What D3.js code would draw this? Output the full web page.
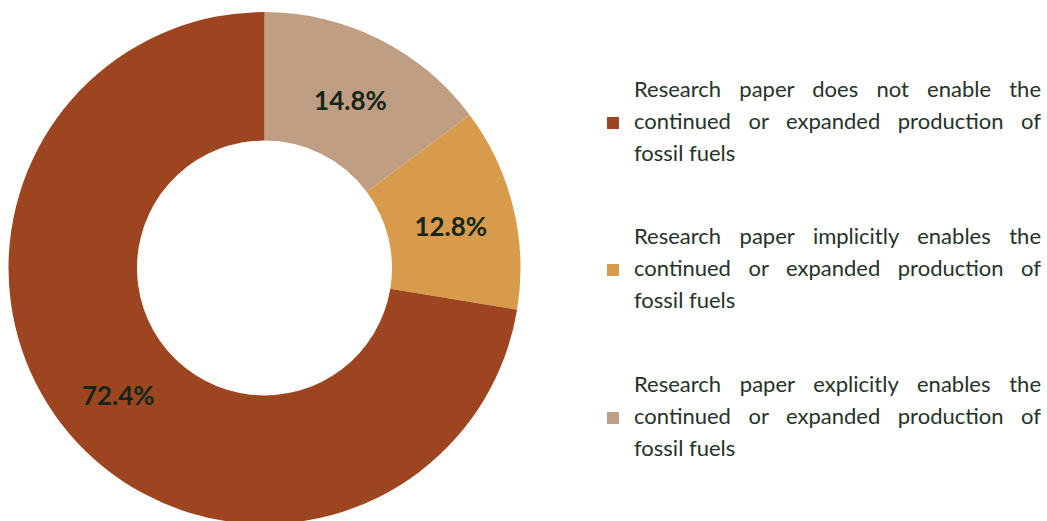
<!DOCTYPE html>
<html lang="en">
<head>
    <meta charset="utf-8">
    <title>D3: Research papers and fossil fuel production</title>
    <script type="text/javascript" src="https://d3js.org/d3.v7.min.js"></script>
    <style>
        body { margin: 0; background: #fff; }
    </style>
</head>
<body>
    <script type="text/javascript">

        // Chart data (clockwise from 12 o'clock)
        var categories = ["explicit", "implicit", "none"];
        var shares = [14.8, 12.8, 72.4];
        var labels = ["14.8%", "12.8%", "72.4%"];
        var colors = ["#BF9E84", "#D89B4B", "#9D4520"];

        // Legend order (top to bottom)
        var legendOrder = ["none", "implicit", "explicit"];
        var legendLines = [
            ["Research paper does not enable the", "continued or expanded production of", "fossil fuels"],
            ["Research paper implicitly enables the", "continued or expanded production of", "fossil fuels"],
            ["Research paper explicitly enables the", "continued or expanded production of", "fossil fuels"]
        ];

        var width = 1047, height = 521;
        var font = "Lato, 'Open Sans', sans-serif";

        var svg = d3.select("body").append("svg")
            .attr("width", width)
            .attr("height", height);

        var colorScale = d3.scaleOrdinal().domain(categories).range(colors);

        var pie = d3.pie().sort(null).value(function(d) { return d.value; });
        var pieData = pie(categories.map(function(c, i) {
            return { key: c, value: shares[i], label: labels[i] };
        }));

        var arc = d3.arc().innerRadius(127.5).outerRadius(256);

        var g = svg.append("g").attr("transform", "translate(264.5,268)");

        g.selectAll("path")
            .data(pieData)
            .enter()
            .append("path")
            .attr("d", arc)
            .attr("fill", function(d) { return colorScale(d.data.key); });

        g.selectAll("text")
            .data(pieData)
            .enter()
            .append("text")
            .attr("transform", function(d) {
                var c = arc.centroid(d);
                return "translate(" + c[0] + "," + (c[1] + 4) + ")";
            })
            .attr("text-anchor", "middle")
            .attr("dy", "0.35em")
            .style("font-family", font)
            .style("font-weight", "bold")
            .style("font-size", "26px")
            .style("fill", "#14261a")
            .text(function(d) { return d.data.label; });

        // Legend with justified lines
        var legendX = 634, legendRight = 1041;
        var firstBaseline = [97, 244, 392];
        var lineHeight = 32;

        legendOrder.forEach(function(key, i) {
            var lg = svg.append("g");
            lg.append("rect")
                .attr("x", 607)
                .attr("y", firstBaseline[i] + lineHeight - 12)
                .attr("width", 12)
                .attr("height", 12)
                .attr("fill", colorScale(key));

            legendLines[i].forEach(function(line, j) {
                var y = firstBaseline[i] + j * lineHeight;
                var t = lg.append("text")
                    .attr("x", legendX)
                    .attr("y", y)
                    .style("font-family", font)
                    .style("font-size", "22px")
                    .style("fill", "#253328")
                    .text(line);
                // justify all but the last line of each entry
                if (j < legendLines[i].length - 1) {
                    var words = line.split(" ");
                    var w = t.node().getComputedTextLength();
                    var extra = (legendRight - legendX - w) / (words.length - 1);
                    t.style("word-spacing", extra + "px");
                }
            });
        });

    </script>
</body>
</html>
